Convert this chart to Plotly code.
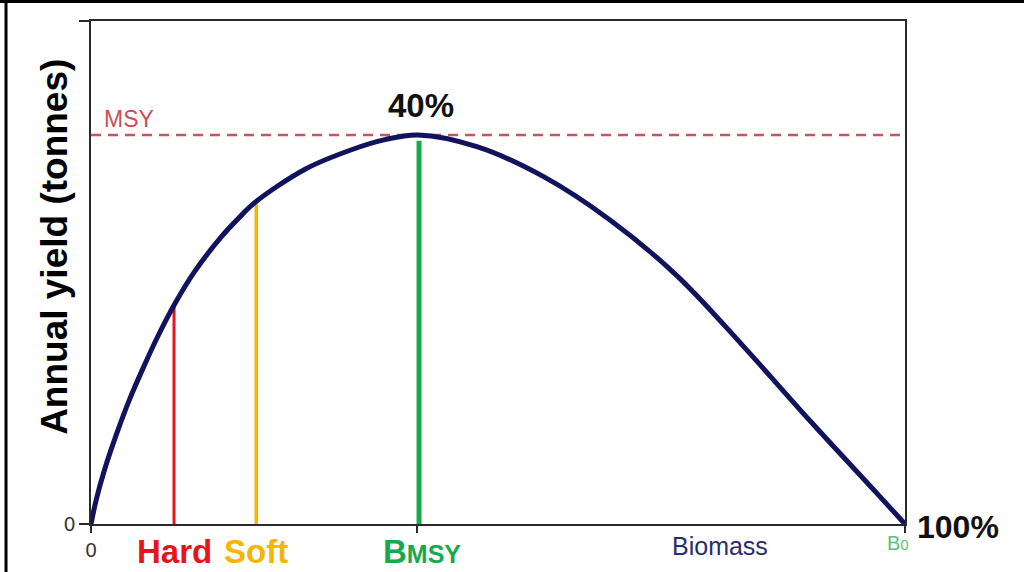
import plotly.graph_objects as go

# Yield curve (biomass as % of B0, yield relative to MSY)
biomass_pct = [0, 0.65, 1.7, 3.1, 4.75, 6.6, 8.2, 10.3, 12.7, 16.0, 18.5, 20.1,
               26.3, 32.0, 36.1, 40.2, 47.4, 55.6, 63.8, 72.0, 80.1, 88.3, 96.5, 100]
annual_yield = [0, 0.063, 0.142, 0.229, 0.321, 0.410, 0.482, 0.566, 0.648, 0.738, 0.794, 0.826,
                0.912, 0.962, 0.988, 1.0, 0.970, 0.893, 0.781, 0.638, 0.458, 0.266, 0.080, 0]

msy_level = 1.0
y_top = 1.293

# reference points: label, biomass %, yield reached by the marker line, colour
ref_labels = ["Hard", "Soft", "BMSY"]
ref_biomass = [10.2, 20.3, 40.3]
ref_yield = [0.565, 0.835, 0.985]
ref_colors = ["#e8141c", "#f7b500", "#17a94b"]
ref_widths = [3, 3.5, 5]

x_tick_vals = [0, 40, 100]
x_tick_text = ["0", "", ""]
y_tick_vals = [0, y_top]
y_tick_text = ["0", ""]

FONT = "Liberation Sans, Arial, sans-serif"

fig = go.Figure()

for lab, bx, by, col, w in zip(ref_labels, ref_biomass, ref_yield, ref_colors, ref_widths):
    fig.add_trace(go.Scatter(x=[bx, bx], y=[0, by], mode="lines",
                             line=dict(color=col, width=w), hoverinfo="skip",
                             showlegend=False, name=lab))

fig.add_trace(go.Scatter(x=[0, 100], y=[msy_level, msy_level], mode="lines",
                         line=dict(color="#c9545c", width=2.5, dash="10px,7px"),
                         showlegend=False, hoverinfo="skip"))

fig.add_trace(go.Scatter(x=biomass_pct, y=annual_yield, mode="lines",
                         line=dict(color="#12135e", width=5, shape="spline", smoothing=1.0),
                         showlegend=False))

fig.update_layout(
    width=1024, height=572,
    margin=dict(l=91, r=119, t=21, b=48, autoexpand=False),
    paper_bgcolor="white", plot_bgcolor="white",
    font=dict(family=FONT),
    xaxis=dict(range=[0, 100], showgrid=False, zeroline=False,
               showline=True, linecolor="#2a2a2a", linewidth=2, mirror=True,
               tickvals=x_tick_vals, ticktext=x_tick_text,
               ticks="outside", ticklen=7, tickwidth=1.5, tickcolor="#2a2a2a",
               tickfont=dict(size=20, color="#333", family=FONT)),
    yaxis=dict(range=[0, y_top], showgrid=False, zeroline=False,
               showline=True, linecolor="#2a2a2a", linewidth=2, mirror=True,
               tickvals=y_tick_vals, ticktext=y_tick_text,
               ticks="outside", ticklen=10, tickwidth=1.5, tickcolor="#2a2a2a",
               tickfont=dict(size=20, color="#333", family=FONT)),
    shapes=[
        # frame of the picture: black band at top and line at the left
        dict(type="rect", xref="paper", yref="paper", x0=-0.2, x1=1.2,
             y0=1.0358, y1=1.06, fillcolor="black", line=dict(width=0), layer="above"),
        dict(type="line", xref="paper", yref="paper", x0=-0.1044, x1=-0.1044,
             y0=-0.2, y1=1.06, line=dict(color="black", width=3)),
    ],
    annotations=[
        dict(text="<b>Annual yield (tonnes)</b>", xref="paper", yref="paper",
             x=-0.0442, y=0.551, textangle=-90, showarrow=False,
             font=dict(size=37, color="black", family=FONT), xanchor="center", yanchor="middle"),
        dict(text="MSY", x=1.4, y=msy_level, xref="x", yref="y", showarrow=False,
             xanchor="left", yanchor="bottom", yshift=1,
             font=dict(size=23, color="#cc4f58", family=FONT)),
        dict(text="<b>40%</b>", x=40.5, y=msy_level, xref="x", yref="y", showarrow=False,
             xanchor="center", yanchor="bottom", yshift=9,
             font=dict(size=33, color="#111", family=FONT)),
        dict(text="<b>Hard</b>", x=ref_biomass[0], y=0, xref="x", yref="y", showarrow=False,
             xanchor="center", yanchor="top", yshift=-7,
             font=dict(size=33, color=ref_colors[0], family=FONT)),
        dict(text="<b>Soft</b>", x=ref_biomass[1], y=0, xref="x", yref="y", showarrow=False,
             xanchor="center", yanchor="top", yshift=-7,
             font=dict(size=33, color=ref_colors[1], family=FONT)),
        dict(text="<b>B<span style='font-size:25px'>MSY</span></b>", x=40.7, y=0, xref="x", yref="y",
             showarrow=False, xanchor="center", yanchor="top", yshift=-7,
             font=dict(size=33, color=ref_colors[2], family=FONT)),
        dict(text="Biomass", x=77.3, y=0, xref="x", yref="y", showarrow=False,
             xanchor="center", yanchor="top", yshift=-6,
             font=dict(size=25, color="#2b2c6b", family=FONT)),
        dict(text="B<span style='font-size:15px'>0</span>", x=99.1, y=0, xref="x", yref="y",
             showarrow=False, xanchor="center", yanchor="top", yshift=-6,
             font=dict(size=20, color="#5cbf7c", family=FONT)),
        dict(text="<b>100%</b>", x=100, y=0, xref="x", yref="y", showarrow=False,
             xanchor="left", yanchor="middle", xshift=10, yshift=-3,
             font=dict(size=32, color="#111", family=FONT)),
    ],
)

# remove the browser's default page margin so the figure sits at the window's corner
fig.write_html("out.html", config={"displayModeBar": False},
               post_script="document.body.style.margin='0px';")
